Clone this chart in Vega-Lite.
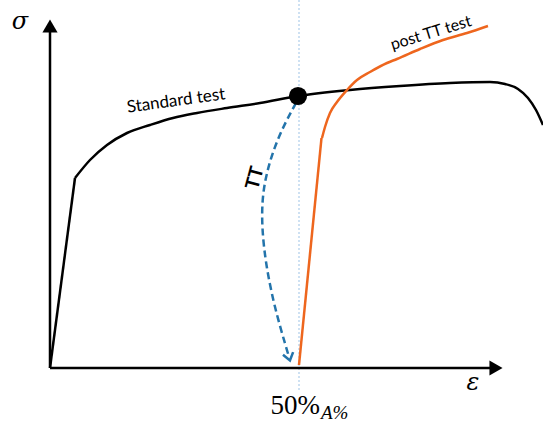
{
  "$schema": "https://vega.github.io/schema/vega-lite/v6.json",
  "width": 543,
  "height": 423,
  "padding": 0,
  "autosize": {"type": "none"},
  "background": "white",
  "config": {"view": {"stroke": null}},
  "datasets": {
    "standard_elastic": [{"i": 0, "x": 0, "y": 0}, {"i": 1, "x": 25, "y": 190}],
    "standard": [
      {"i": 1, "x": 25, "y": 190}, {"i": 2, "x": 40, "y": 208},
      {"i": 3, "x": 57, "y": 223}, {"i": 4, "x": 77, "y": 235}, {"i": 5, "x": 100, "y": 243},
      {"i": 6, "x": 123, "y": 250}, {"i": 7, "x": 147, "y": 255}, {"i": 8, "x": 177, "y": 260},
      {"i": 9, "x": 210, "y": 265}, {"i": 10, "x": 248, "y": 272}, {"i": 11, "x": 300, "y": 278},
      {"i": 12, "x": 350, "y": 282}, {"i": 13, "x": 400, "y": 285}, {"i": 14, "x": 440, "y": 286},
      {"i": 15, "x": 455, "y": 284}, {"i": 16, "x": 468, "y": 279}, {"i": 17, "x": 478, "y": 270},
      {"i": 18, "x": 486, "y": 258}, {"i": 19, "x": 493, "y": 243}
    ],
    "post_elastic": [{"i": 0, "x": 249, "y": 3}, {"i": 1, "x": 271.5, "y": 230}],
    "post": [
      {"i": 1, "x": 272, "y": 230}, {"i": 2, "x": 275, "y": 241},
      {"i": 3, "x": 280, "y": 255}, {"i": 4, "x": 287, "y": 266}, {"i": 5, "x": 297, "y": 278},
      {"i": 6, "x": 307, "y": 288}, {"i": 7, "x": 320, "y": 296}, {"i": 8, "x": 337, "y": 305},
      {"i": 9, "x": 347, "y": 309}, {"i": 10, "x": 370, "y": 319}, {"i": 11, "x": 393, "y": 328},
      {"i": 12, "x": 417, "y": 335}, {"i": 13, "x": 438, "y": 342}
    ],
    "tt": [
      {"i": 0, "x": 246, "y": 265}, {"i": 1, "x": 235, "y": 245}, {"i": 2, "x": 224, "y": 220},
      {"i": 3, "x": 216, "y": 193}, {"i": 4, "x": 212, "y": 168}, {"i": 5, "x": 212, "y": 138},
      {"i": 6, "x": 216, "y": 103}, {"i": 7, "x": 223, "y": 68}, {"i": 8, "x": 231, "y": 38},
      {"i": 9, "x": 239, "y": 11}
    ],
    "yaxis": [{"i": 0, "x": 0, "y": 0}, {"i": 1, "x": 0, "y": 336}],
    "xaxis": [{"i": 0, "x": 0, "y": 0}, {"i": 1, "x": 440, "y": 0}],
    "vline": [{"i": 0, "x": 249, "y": 368}, {"i": 1, "x": 249, "y": -24}]
  },
  "encoding": {
    "x": {"field": "x", "type": "quantitative", "scale": {"domain": [-50, 493], "nice": false, "zero": false}, "axis": null},
    "y": {"field": "y", "type": "quantitative", "scale": {"domain": [-55, 368], "nice": false, "zero": false}, "axis": null}
  },
  "layer": [
    {"data": {"name": "vline"}, "mark": {"type": "line", "color": "#9dc3e6", "strokeWidth": 1, "strokeDash": [2, 2]}, "encoding": {"order": {"field": "i"}}},
    {"data": {"name": "yaxis"}, "mark": {"type": "line", "color": "black", "strokeWidth": 2.5}, "encoding": {"order": {"field": "i"}}},
    {"data": {"name": "xaxis"}, "mark": {"type": "line", "color": "black", "strokeWidth": 2.5}, "encoding": {"order": {"field": "i"}}},
    {"data": {"values": [{"x": 0, "y": 342}]}, "mark": {"type": "point", "shape": "triangle-up", "filled": true, "color": "black", "opacity": 1, "size": 230}},
    {"data": {"values": [{"x": 446, "y": 0}]}, "mark": {"type": "point", "shape": "triangle-right", "filled": true, "color": "black", "opacity": 1, "size": 230}},
    {"data": {"name": "standard_elastic"}, "mark": {"type": "line", "color": "black", "strokeWidth": 2.5}, "encoding": {"order": {"field": "i"}}},
    {"data": {"name": "standard"}, "mark": {"type": "line", "color": "black", "strokeWidth": 2.5, "interpolate": "monotone"}, "encoding": {"order": {"field": "i"}}},
    {"data": {"name": "post_elastic"}, "mark": {"type": "line", "color": "#ee661e", "strokeWidth": 2.5}, "encoding": {"order": {"field": "i"}}},
    {"data": {"name": "post"}, "mark": {"type": "line", "color": "#ee661e", "strokeWidth": 2.5, "interpolate": "monotone"}, "encoding": {"order": {"field": "i"}}},
    {"data": {"name": "tt"}, "mark": {"type": "line", "color": "#2374ab", "strokeWidth": 2.5, "strokeDash": [7, 4], "interpolate": "basis"}, "encoding": {"order": {"field": "i"}}},
    {"data": {"values": [{"x": 239, "y": 11}]}, "mark": {"type": "point", "shape": "M-1,-0.7L0,0.7L1,-0.7", "filled": false, "color": "#2374ab", "strokeWidth": 2.5, "opacity": 1, "size": 110, "angle": 345}},
    {"data": {"values": [{"x": 248, "y": 272}]}, "mark": {"type": "point", "shape": "circle", "filled": true, "color": "black", "opacity": 1, "size": 330}},
    {"data": {"values": [{"x": -30, "y": 346, "t": "σ"}, {"x": 423, "y": -15, "t": "ε"}]}, "mark": {"type": "text", "font": "DejaVu Serif", "fontStyle": "italic", "fontSize": 24, "align": "center", "baseline": "middle"}, "encoding": {"text": {"field": "t"}}},
    {"data": {"values": [{"x": 126, "y": 267, "t": "Standard test"}]}, "mark": {"type": "text", "font": "Lato", "fontSize": 17, "angle": 352, "align": "center", "baseline": "middle"}, "encoding": {"text": {"field": "t"}}},
    {"data": {"values": [{"x": 381, "y": 335, "t": "post TT test"}]}, "mark": {"type": "text", "font": "Lato", "fontSize": 16, "angle": 343, "align": "center", "baseline": "middle"}, "encoding": {"text": {"field": "t"}}},
    {"data": {"values": [{"x": 205, "y": 190, "t": "TT"}]}, "mark": {"type": "text", "font": "Lato", "fontSize": 19, "fontWeight": "bold", "angle": 285, "align": "center", "baseline": "middle"}, "encoding": {"text": {"field": "t"}}},
    {"data": {"values": [{"x": 270, "y": -38, "t": "50%"}]}, "mark": {"type": "text", "font": "Liberation Serif", "fontSize": 27, "align": "right", "baseline": "middle"}, "encoding": {"text": {"field": "t"}}},
    {"data": {"values": [{"x": 271, "y": -45, "t": "A%"}]}, "mark": {"type": "text", "font": "Liberation Serif", "fontStyle": "italic", "fontSize": 19, "align": "left", "baseline": "middle"}, "encoding": {"text": {"field": "t"}}}
  ]
}
